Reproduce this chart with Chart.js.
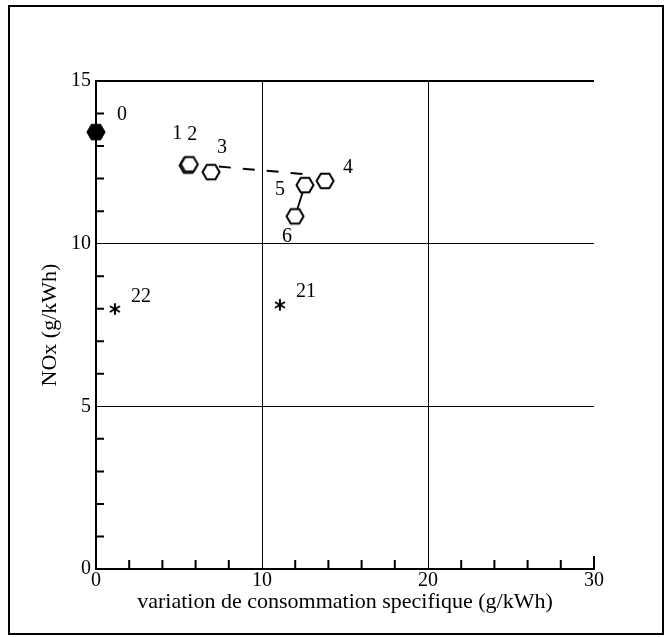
<!DOCTYPE html>
<html>
<head>
<meta charset="utf-8">
<script src="https://cdn.jsdelivr.net/npm/chart.js@4.4.1/dist/chart.umd.min.js"></script>
<style>
  html, body { margin: 0; padding: 0; background: #fff; }
  #frame {
    position: absolute;
    left: 8px;
    top: 5px;
    width: 656px;
    height: 630px;
    border: 2px solid #000;
    box-sizing: border-box;
  }
  #frame canvas { display: block; }
</style>
</head>
<body>
<div id="frame"><canvas id="noxChart" width="652" height="626"></canvas></div>
<script>
// Essais 0 a 6 (hexagones)
const essais = ["0", "1", "2", "3", "4", "5", "6"];
const essaiConso = [0, 5.55, 5.62, 6.93, 13.8, 12.59, 11.99];
const essaiNox = [13.43, 12.4, 12.44, 12.2, 11.93, 11.8, 10.84];

// Essais 21 et 22 (etoiles)
const etoiles = ["21", "22"];
const etoileConso = [11.08, 1.14];
const etoileNox = [8.12, 7.99];

// Liaisons entre essais
const tiretConso = [7.4, 12.7];
const tiretNox = [12.37, 12.13];
const traitConso = [12.59, 11.99];
const traitNox = [11.8, 10.84];

// Graduations
const xTicks = [0, 10, 20, 30];
const yTicks = [0, 5, 10, 15];

// decalage des etiquettes (pixels)
const essaiOffsets = [[26, -17], [-11, -32], [3, -30], [11, -24], [23, -13], [-25, 5], [-8, 20]];
const etoileOffsets = [[26, -13], [26, -12]];

const serif = '"Liberation Serif", "Times New Roman", serif';

function toPoints(xs, ys) {
  return xs.map((v, i) => ({ x: v, y: ys[i] }));
}

// hexagone pour les marqueurs
function hexagone(plein) {
  const c = document.createElement("canvas");
  c.width = 22;
  c.height = 22;
  const g = c.getContext("2d");
  g.beginPath();
  for (let k = 0; k < 6; k++) {
    const a = (Math.PI / 3) * k;
    const px = 11 + 8.5 * Math.cos(a);
    const py = 11 + 8.5 * Math.sin(a);
    if (k === 0) g.moveTo(px, py);
    else g.lineTo(px, py);
  }
  g.closePath();
  g.fillStyle = plein ? "#000" : "#fff";
  g.fill();
  g.lineWidth = 2;
  g.strokeStyle = "#000";
  g.stroke();
  return c;
}

// asterisque a six branches
function asterisque() {
  const c = document.createElement("canvas");
  c.width = 14;
  c.height = 14;
  const g = c.getContext("2d");
  g.strokeStyle = "#000";
  g.lineWidth = 2;
  g.lineCap = "round";
  g.beginPath();
  for (let k = 0; k < 3; k++) {
    const a = Math.PI / 2 + (Math.PI / 3) * k;
    g.moveTo(7 - 5 * Math.cos(a), 7 - 5 * Math.sin(a));
    g.lineTo(7 + 5 * Math.cos(a), 7 + 5 * Math.sin(a));
  }
  g.stroke();
  return c;
}

const hexPlein = hexagone(true);
const hexVide = hexagone(false);
const etoile = asterisque();

// petites graduations vers l'interieur
const minorTicks = {
  id: "minorTicks",
  beforeDatasetsDraw(chart) {
    const { ctx, chartArea, scales } = chart;
    const x = scales.x;
    const y = scales.y;
    ctx.save();
    ctx.strokeStyle = "#000";
    ctx.lineWidth = 2;
    ctx.beginPath();
    for (let v = 1; v < 15; v++) {
      if (v % 5 === 0) continue;
      const py = y.getPixelForValue(v);
      ctx.moveTo(chartArea.left, py);
      ctx.lineTo(chartArea.left + 8, py);
    }
    for (let v = 2; v <= 30; v += 2) {
      if (v % 10 === 0 && v !== 30) continue;
      const px = x.getPixelForValue(v);
      ctx.moveTo(px, chartArea.bottom);
      ctx.lineTo(px, chartArea.bottom - (v === 30 ? 13 : 9));
    }
    ctx.stroke();
    ctx.restore();
  },
};

// numeros des essais
const pointNames = {
  id: "pointNames",
  afterDatasetsDraw(chart) {
    const { ctx, scales } = chart;
    ctx.save();
    ctx.font = "20px " + serif;
    ctx.fillStyle = "#000";
    ctx.textAlign = "center";
    ctx.textBaseline = "middle";
    chart.data.datasets.forEach((ds) => {
      if (!ds.names) return;
      ds.data.forEach((p, i) => {
        const off = ds.nameOffsets[i];
        ctx.fillText(
          ds.names[i],
          scales.x.getPixelForValue(p.x) + off[0],
          scales.y.getPixelForValue(p.y) + off[1]
        );
      });
    });
    ctx.restore();
  },
};

new Chart(document.getElementById("noxChart"), {
  type: "scatter",
  data: {
    datasets: [
      {
        data: toPoints(essaiConso, essaiNox),
        names: essais,
        nameOffsets: essaiOffsets,
        pointStyle: essais.map((e) => (e === "0" ? hexPlein : hexVide)),
        pointRadius: 9,
        showLine: false,
        clip: false,
        order: 1,
      },
      {
        data: toPoints(etoileConso, etoileNox),
        names: etoiles,
        nameOffsets: etoileOffsets,
        pointStyle: etoile,
        pointRadius: 5,
        showLine: false,
        order: 2,
      },
      {
        data: toPoints(tiretConso, tiretNox),
        showLine: true,
        borderColor: "#000",
        borderWidth: 2,
        borderDash: [12, 12],
        pointRadius: 0,
        order: 3,
      },
      {
        data: toPoints(traitConso, traitNox),
        showLine: true,
        borderColor: "#000",
        borderWidth: 1.8,
        pointRadius: 0,
        order: 4,
      },
    ],
  },
  options: {
    responsive: false,
    animation: false,
    events: [],
    layout: {
      padding: { left: 27, top: 74, right: 68, bottom: 14 },
    },
    plugins: {
      legend: { display: false },
      tooltip: { enabled: false },
    },
    scales: {
      x: {
        type: "linear",
        min: 0,
        max: 30,
        afterBuildTicks: (scale) => {
          scale.ticks = xTicks.map((v) => ({ value: v }));
        },
        afterFit: (scale) => {
          scale.height = 50;
        },
        ticks: {
          color: "#000",
          padding: 0,
          font: { family: serif, size: 20 },
        },
        grid: {
          drawTicks: false,
          color: (c) => (c.tick && c.tick.value === 30 ? "rgba(0,0,0,0)" : "#000"),
          lineWidth: 1,
        },
        border: { display: true, color: "#000", width: 2 },
        title: {
          display: true,
          text: "variation de consommation specifique (g/kWh)",
          color: "#000",
          font: { family: serif, size: 22 },
          padding: { top: 0, bottom: 4 },
        },
      },
      y: {
        type: "linear",
        min: 0,
        max: 15,
        afterBuildTicks: (scale) => {
          scale.ticks = yTicks.map((v) => ({ value: v }));
        },
        afterFit: (scale) => {
          scale.width = 59;
        },
        ticks: {
          color: "#000",
          padding: 5,
          font: { family: serif, size: 20 },
        },
        grid: {
          drawTicks: false,
          color: "#000",
          lineWidth: (c) => (c.tick && c.tick.value === 15 ? 2 : 1),
        },
        border: { display: true, color: "#000", width: 2 },
        title: {
          display: true,
          text: "NOx (g/kWh)",
          color: "#000",
          font: { family: serif, size: 22 },
          padding: { top: 0, bottom: 0 },
        },
      },
    },
  },
  plugins: [minorTicks, pointNames],
});
</script>
</body>
</html>
